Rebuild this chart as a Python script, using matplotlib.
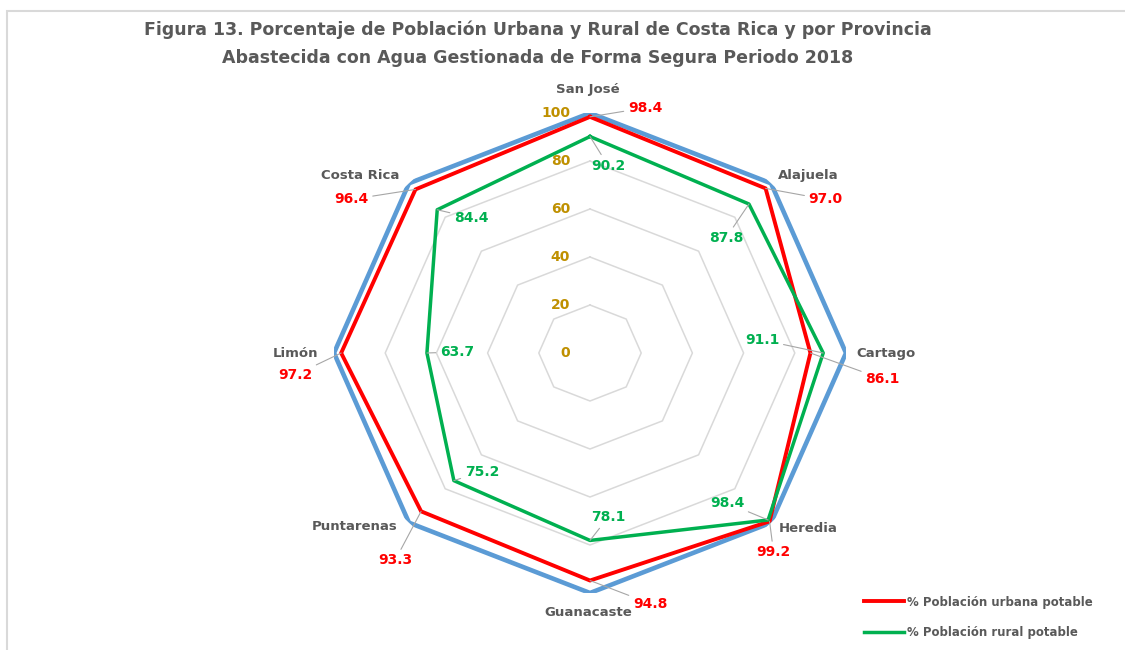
import numpy as np
import matplotlib
matplotlib.use("Agg")
import matplotlib.pyplot as plt
from matplotlib.patches import Rectangle

# ---------------- data ----------------
categories = ['San José', 'Alajuela', 'Cartago', 'Heredia',
              'Guanacaste', 'Puntarenas', 'Limón', 'Costa Rica']
urbana = [98.4, 97.0, 86.1, 99.2, 94.8, 93.3, 97.2, 96.4]
rural = [90.2, 87.8, 91.1, 98.4, 78.1, 75.2, 63.7, 84.4]
maximo = [100, 100, 100, 100, 100, 100, 100, 100]
r_ticks = [0, 20, 40, 60, 80, 100]
label_urbana = '% Población urbana potable'
label_rural = '% Población rural potable'
title_lines = ['Figura 13. Porcentaje de Población Urbana y Rural de Costa Rica y por Provincia',
               'Abastecida con Agua Gestionada de Forma Segura Periodo 2018']

# ---------------- label offsets (pixels) ----------------
urb_off = [(55, 9), (60, -11), (72, -26), (4, -31), (60, -23), (-26, -49), (-46, -22), (-64, -10)]
rur_off = [(18, -29), (-23, -34), (-61, 13), (-41, 17), (18, 23), (28, 9), (30, 1), (34, -8)]
cat_off = [(-2, 23), (37, 8), (40, 0), (37, -6), (-2, -20), (-54, -4), (-38, 0), (-49, 8)]

C_BLUE = '#5b9bd5'
C_RED = '#ff0000'
C_GREEN = '#00b050'
C_GRID = '#d9d9d9'
C_TEXT = '#595959'
C_GOLD = '#bf9000'
C_LEADER = '#a6a6a6'

W, H = 1125, 650
fig = plt.figure(figsize=(W / 100, H / 100), dpi=100)

# chart frame
fig.add_artist(Rectangle((7 / W, -0.1), 1.2, (1 - 11 / H) + 0.1,
                         transform=fig.transFigure, fill=False,
                         ec=C_GRID, lw=1.5))

# title
fig.text(538 / W, 1 - 30 / H, title_lines[0], ha='center', va='center',
         fontsize=12.5, fontweight='bold', color=C_TEXT)
fig.text(538 / W, 1 - 58 / H, title_lines[1], ha='center', va='center',
         fontsize=12.5, fontweight='bold', color=C_TEXT)

# polar axes (elliptical, to match the reference's proportions)
cx, cy, rx, ry = 590, 353, 256, 240
ax = fig.add_axes([(cx - rx) / W, (H - cy - ry) / H, 2 * rx / W, 2 * ry / H],
                  projection='polar')
ax.set_aspect('auto')
ax.set_theta_zero_location('N')
ax.set_theta_direction(-1)
ax.set_ylim(0, 100)
ax.grid(False)
ax.spines['polar'].set_visible(False)
ax.set_xticks([])
ax.set_yticks([])
ax.patch.set_alpha(0)

n = len(categories)
theta = np.arange(n) * 2 * np.pi / n
theta_c = np.append(theta, theta[0])

def closed(v):
    return np.append(np.asarray(v, float), v[0])

# octagonal gridlines
for r in r_ticks[1:]:
    ax.plot(theta_c, [r] * (n + 1), color=C_GRID, lw=1.1, zorder=1)

# radial tick labels
for r in r_ticks:
    ax.annotate(str(r), xy=(0, r), xytext=(-20, 0), textcoords='offset pixels',
                ha='right', va='center', fontsize=10, fontweight='bold',
                color=C_GOLD, zorder=5)

# series
ax.plot(theta_c, closed(maximo), color=C_BLUE, lw=3.3, zorder=2,
        solid_joinstyle='round')
l_red, = ax.plot(theta_c, closed(urbana), color=C_RED, lw=2.8, zorder=3,
                 solid_joinstyle='round', label=label_urbana)
l_green, = ax.plot(theta_c, closed(rural), color=C_GREEN, lw=2.5, zorder=4,
                   solid_joinstyle='round', label=label_rural)

# category labels
for t, name, off in zip(theta, categories, cat_off):
    ax.annotate(name, xy=(t, 100), xytext=off, textcoords='offset pixels',
                ha='center', va='center', fontsize=9.5, fontweight='bold',
                color=C_TEXT, zorder=6, annotation_clip=False)

# data labels with leader lines
def data_labels(vals, offs, color):
    for t, v, off in zip(theta, vals, offs):
        ax.annotate(f'{v:.1f}', xy=(t, v), xytext=off, textcoords='offset pixels',
                    ha='center', va='center', fontsize=10, fontweight='bold',
                    color=color, zorder=6, annotation_clip=False,
                    arrowprops=dict(arrowstyle='-', color=C_LEADER, lw=0.8,
                                    shrinkA=1, shrinkB=0))

data_labels(urbana, urb_off, C_RED)
data_labels(rural, rur_off, C_GREEN)

# legend
leg = fig.legend(handles=[l_red, l_green], loc='upper left',
                 bbox_to_anchor=(853 / W, 1 - 585 / H), frameon=False,
                 handlelength=3.4, handletextpad=0.25, labelspacing=1.45,
                 prop=dict(size=8.5, weight='bold'))
for txt in leg.get_texts():
    txt.set_color(C_TEXT)

fig.savefig('out.png', dpi=100)
